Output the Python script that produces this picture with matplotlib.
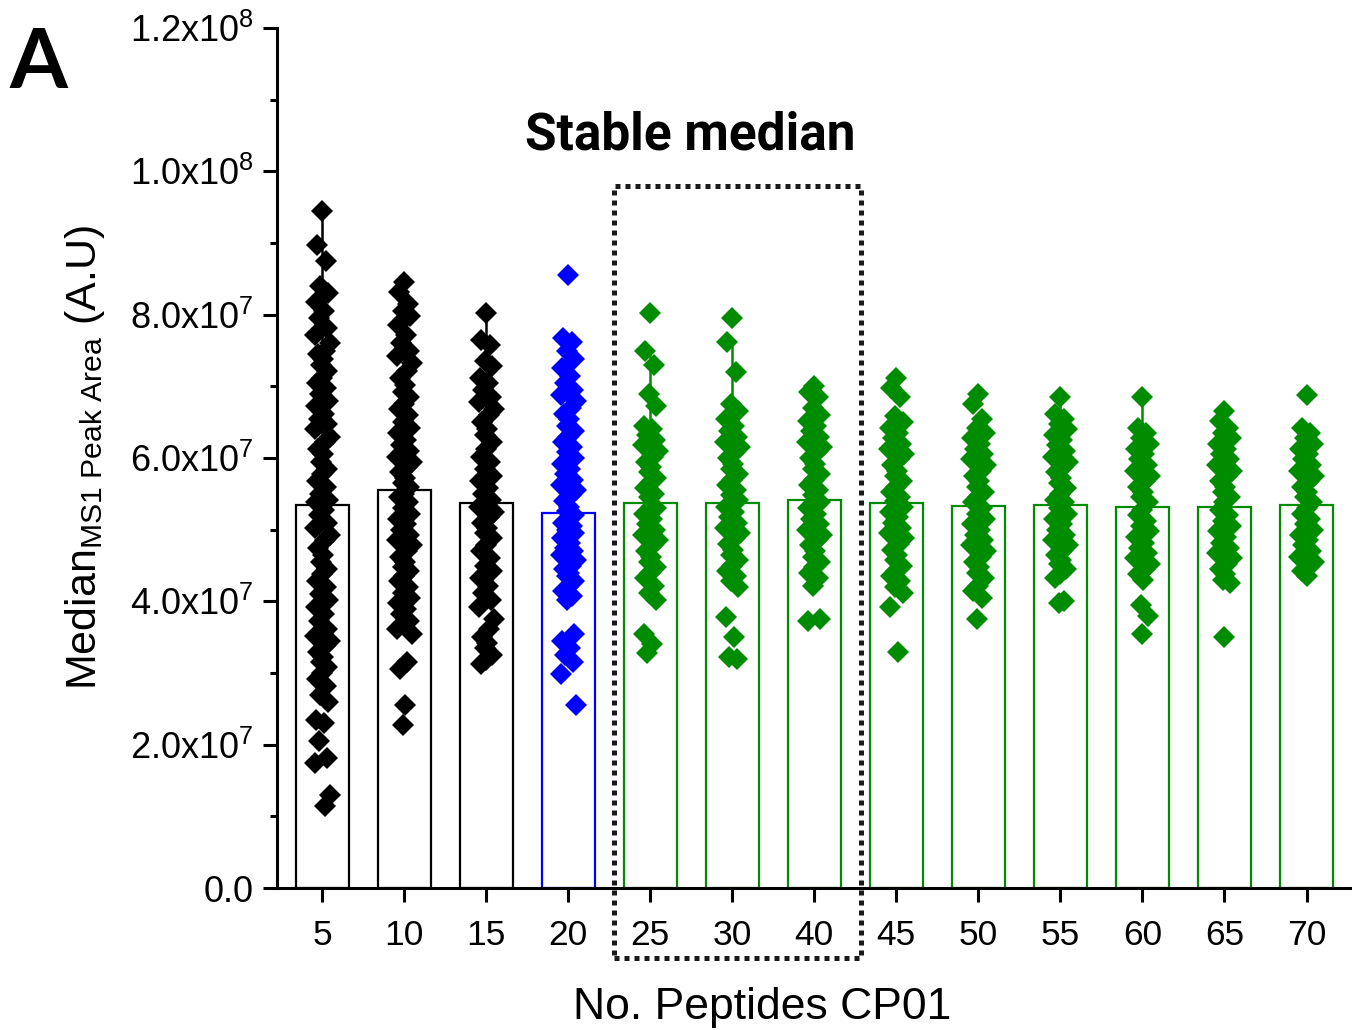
import numpy as np
import matplotlib
matplotlib.use('Agg')
from matplotlib import pyplot as plt
from matplotlib.patches import Rectangle
from matplotlib.ticker import MultipleLocator, FuncFormatter

plt.rcParams['font.family'] = ['Liberation Sans', 'DejaVu Sans']
plt.rcParams['mathtext.fontset'] = 'custom'
plt.rcParams['mathtext.rm'] = 'Liberation Sans'
plt.rcParams['mathtext.it'] = 'Liberation Sans:italic'

# data (units of 1e7)
categories = ['5', '10', '15', '20', '25', '30', '40', '45', '50', '55', '60', '65', '70']
medians = [5.34, 5.56, 5.37, 5.23, 5.37, 5.37, 5.41, 5.37, 5.33, 5.34, 5.32, 5.32, 5.34]
err_top = [9.45, 8.0, 8.0, 7.6, 7.45, 7.6, 6.6, 6.6, 6.5, 6.85, 6.85, 6.4, 6.3]

g5 = [9.45, 8.97, 8.75, 8.4, 8.3, 8.18, 8.05, 7.95, 7.82, 7.72, 7.6, 7.5, 7.45, 7.38, 7.3,
      7.22, 7.12, 7.05, 6.98, 6.9, 6.8, 6.72, 6.62, 6.55, 6.48, 6.4, 6.3, 6.22, 6.12, 6.05,
      5.95, 5.85, 5.78, 5.68, 5.6, 5.5, 5.42, 5.38,
      5.28, 5.2, 5.1, 5.02, 4.92, 4.85, 4.75, 4.65, 4.55, 4.45, 4.38, 4.28, 4.2, 4.1, 4.02,
      3.92, 3.82, 3.72, 3.62, 3.52, 3.45, 3.38, 3.3, 3.22, 3.15, 3.08, 3.0, 2.92, 2.82, 2.7,
      2.6, 2.35, 2.3, 2.05, 1.82, 1.75, 1.3, 1.15]
g10 = [8.45, 8.32, 8.15, 8.05, 7.98, 7.85, 7.72, 7.6, 7.5, 7.42, 7.32, 7.22, 7.12, 7.02,
       6.92, 6.85, 6.75, 6.68, 6.6, 6.5, 6.42, 6.35, 6.25, 6.18, 6.1, 6.02, 5.95, 5.88, 5.8,
       5.72, 5.65, 5.6,
       5.5, 5.45, 5.38, 5.3, 5.22, 5.15, 5.08, 5.0, 4.92, 4.85, 4.78, 4.7, 4.62, 4.55, 4.48,
       4.42, 4.35, 4.28, 4.2, 4.12, 4.05, 3.98, 3.9, 3.82, 3.72, 3.62, 3.55, 3.15, 3.05,
       2.55, 2.28]
g15 = [8.02, 7.65, 7.58, 7.35, 7.28, 7.12, 7.05, 6.95, 6.85, 6.78, 6.68, 6.6, 6.5, 6.4,
       6.32, 6.22, 6.12, 6.02, 5.95, 5.85, 5.75, 5.68, 5.58, 5.5, 5.42,
       5.32, 5.25, 5.18, 5.1, 5.02, 4.95, 4.88, 4.78, 4.7, 4.6, 4.5, 4.42, 4.32, 4.22, 4.12,
       4.02, 3.92, 3.75, 3.62, 3.5, 3.42, 3.35, 3.25, 3.18, 3.12]
g20 = [8.55, 7.68, 7.62, 7.5, 7.38, 7.25, 7.15, 7.05, 6.95, 6.88, 6.8, 6.7, 6.62, 6.55,
       6.45, 6.38, 6.3, 6.22, 6.15, 6.08, 6.0, 5.92, 5.85, 5.78, 5.7, 5.62, 5.55, 5.48, 5.4,
       5.32, 5.26,
       5.2, 5.15, 5.1, 5.05, 5.0, 4.95, 4.88, 4.82, 4.75, 4.7, 4.65, 4.58, 4.5, 4.45, 4.4,
       4.35, 4.28, 4.2, 4.15, 4.08, 4.02, 3.55, 3.45, 3.35, 3.25, 3.15, 2.98, 2.55]
g25 = [8.02, 7.5, 7.3, 6.9, 6.72, 6.45, 6.4, 6.32, 6.25, 6.18, 6.1, 6.02, 5.95, 5.88, 5.8,
       5.72, 5.65, 5.58, 5.5, 5.45,
       5.3, 5.22, 5.15, 5.08, 5.0, 4.92, 4.85, 4.78, 4.7, 4.62, 4.55, 4.48, 4.4, 4.32, 4.22,
       4.12, 4.02, 3.55, 3.4, 3.28]
g30 = [7.95, 7.62, 7.2, 6.75, 6.65, 6.55, 6.45, 6.38, 6.3, 6.22, 6.15, 6.08, 6.0, 5.92,
       5.85, 5.78, 5.7, 5.62, 5.55, 5.48, 5.42,
       5.32, 5.25, 5.18, 5.1, 5.02, 4.95, 4.88, 4.8, 4.72, 4.65, 4.58, 4.5, 4.42, 4.35, 4.28,
       4.2, 3.78, 3.5, 3.22, 3.2]
g40 = [7.0, 6.92, 6.85, 6.7, 6.6, 6.52, 6.45, 6.38, 6.3, 6.22, 6.15, 6.08, 6.0, 5.92, 5.85,
       5.78, 5.7, 5.62, 5.55, 5.48,
       5.38, 5.3, 5.22, 5.15, 5.08, 5.0, 4.92, 4.85, 4.78, 4.7, 4.62, 4.55, 4.48, 4.4, 4.32,
       4.22, 3.75, 3.72]
g45 = [7.12, 6.98, 6.85, 6.58, 6.5, 6.42, 6.35, 6.28, 6.2, 6.12, 6.05, 5.98, 5.9, 5.82,
       5.75, 5.68, 5.6, 5.52, 5.45, 5.4,
       5.32, 5.25, 5.18, 5.1, 5.02, 4.95, 4.88, 4.8, 4.72, 4.65, 4.58, 4.5, 4.42, 4.35, 4.28,
       4.2, 4.12, 3.92, 3.3]
g50 = [6.9, 6.75, 6.55, 6.42, 6.35, 6.28, 6.2, 6.12, 6.05, 5.98, 5.9, 5.82, 5.75, 5.68,
       5.6, 5.52, 5.45, 5.38,
       5.3, 5.22, 5.15, 5.08, 5.0, 4.92, 4.85, 4.78, 4.7, 4.62, 4.55, 4.48, 4.4, 4.32, 4.22,
       4.15, 4.05, 3.75]
g55 = [6.85, 6.62, 6.55, 6.48, 6.4, 6.32, 6.25, 6.18, 6.1, 6.02, 5.95, 5.88, 5.8, 5.72,
       5.65, 5.58, 5.5, 5.42, 5.38,
       5.3, 5.22, 5.15, 5.08, 5.0, 4.92, 4.85, 4.78, 4.72, 4.65, 4.58, 4.52, 4.45, 4.38,
       4.32, 4.0, 3.98]
g60 = [6.85, 6.42, 6.35, 6.28, 6.2, 6.12, 6.05, 5.98, 5.9, 5.82, 5.75, 5.68, 5.6, 5.52,
       5.45, 5.38,
       5.28, 5.2, 5.12, 5.05, 4.98, 4.9, 4.82, 4.75, 4.68, 4.6, 4.52, 4.45, 4.38, 4.3, 3.95,
       3.8, 3.55]
g65 = [6.65, 6.52, 6.42, 6.35, 6.28, 6.2, 6.12, 6.05, 5.98, 5.9, 5.82, 5.75, 5.68, 5.6,
       5.52, 5.45, 5.38,
       5.28, 5.2, 5.12, 5.05, 4.98, 4.9, 4.82, 4.75, 4.68, 4.6, 4.52, 4.45, 4.38, 4.3, 4.25,
       3.5]
g70 = [6.88, 6.42, 6.35, 6.28, 6.2, 6.12, 6.05, 5.98, 5.9, 5.82, 5.75, 5.68, 5.6, 5.52,
       5.45, 5.38,
       5.3, 5.22, 5.15, 5.08, 5.0, 4.92, 4.85, 4.78, 4.7, 4.62, 4.55, 4.48, 4.42, 4.36]
groups = [g5, g10, g15, g20, g25, g30, g40, g45, g50, g55, g60, g65, g70]

BLACK, BLUE, GREEN = '#000000', '#0000ff', '#008c00'
colors = [BLACK] * 3 + [BLUE] + [GREEN] * 9
jit = [0.0, -0.06, 0.045, -0.02, 0.075, -0.075, 0.02, -0.04, 0.06, -0.09, 0.09, 0.035,
       -0.055, 0.01, -0.015, 0.065]

fig = plt.figure(figsize=(13.52, 10.30), dpi=100)
ax = fig.add_axes([277 / 1352, 1 - 888 / 1030, (1350 - 277) / 1352, (888 - 28) / 1030])
x = np.arange(len(categories))
sc = 1e7

ax.bar(x, np.array(medians) * sc, width=0.645, facecolor='white', edgecolor=colors,
       linewidth=1.6, zorder=2)
for i in range(len(x)):
    ax.plot([x[i], x[i]], [medians[i] * sc, err_top[i] * sc], color=colors[i], lw=1.8,
            zorder=2.5)
    vals = np.array(groups[i]) * sc
    xs = x[i] + np.array([jit[k % len(jit)] for k in range(len(vals))])
    ax.plot(xs, vals, linestyle='none', marker='D', ms=11.5, color=colors[i],
            markeredgewidth=0, zorder=3)

ax.set_xlim(-0.55, 12.53)
ax.set_ylim(0, 1.2e8)
ax.set_xticks(x)
ax.set_xticklabels(categories)
ax.yaxis.set_major_locator(MultipleLocator(2e7))
ax.yaxis.set_minor_locator(MultipleLocator(1e7))


def fmt(v, pos):
    if v == 0:
        return '0.0'
    m = v / 1e7
    e = 7
    while m >= 10:
        m /= 10
        e += 1
    return r'%.1fx10$^{%d}$' % (m, e)


ax.yaxis.set_major_formatter(FuncFormatter(fmt))
for s in ['top', 'right']:
    ax.spines[s].set_visible(False)
for s in ['left', 'bottom']:
    ax.spines[s].set_linewidth(2.2)
ax.tick_params(axis='y', which='major', direction='out', length=10, width=2.2,
               labelsize=26, pad=7)
ax.tick_params(axis='x', which='major', direction='out', length=10, width=2.2,
               labelsize=25.5, pad=12)
ax.tick_params(axis='y', which='minor', direction='out', length=5, width=2.2)

ax.set_xlabel('No. Peptides CP01', fontsize=32)
ax.xaxis.set_label_coords(0.452, -0.115)
ax.set_ylabel(r'Median$_{\mathrm{MS1\ Peak\ Area}}$ (A.U)', fontsize=31)
ax.yaxis.set_label_coords(-0.158, 0.5)

ax.text(4.49, 10.5e7, 'Stable median', fontsize=37, fontweight='bold',
        family=['Roboto', 'DejaVu Sans'], ha='center', va='center')
box = Rectangle((3.554, -0.977e7), 6.572 - 3.554, 9.795e7 + 0.977e7, fill=False,
                edgecolor='#1a1a1a', linewidth=3.6, linestyle=(0, (1, 1)), clip_on=False,
                zorder=4)
ax.add_patch(box)

fig.text(0.007, 1 - 88 / 1030, 'A', fontsize=60, fontweight='bold',
         family=['Lato', 'DejaVu Sans'], ha='left', va='baseline')

fig.savefig('out.png', dpi=100)
